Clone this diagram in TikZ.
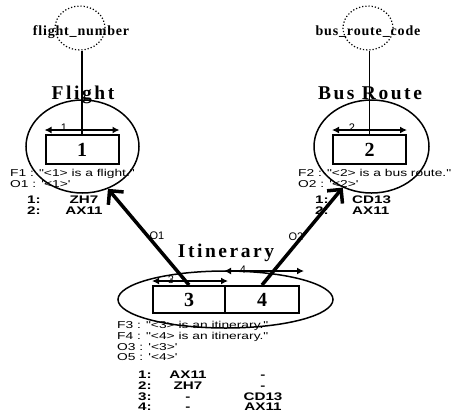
\documentclass[tikz,border=0pt]{standalone}
\usepackage{fontspec}
\setmainfont{Liberation Serif}
\newfontfamily\labfont{Liberation Sans}[FakeStretch=1.38]
\newfontfamily\tagfont{Liberation Sans}
\newfontfamily\titlefont{Liberation Serif}[LetterSpace=13]
\newfontfamily\attrfont{Liberation Serif}[LetterSpace=6]
\usetikzlibrary{arrows.meta, calc, shapes.geometric}
\tikzset{
  x=1pt, y=1pt,
  ent/.style={ellipse, draw, line width=1.5pt, inner sep=0pt},
  role/.style={
    draw, line width=2pt, inner sep=0pt,
    minimum width=73pt, minimum height=29pt,
    font=\fontsize{20}{20}\selectfont\bfseries
  },
  attr/.style={ellipse, draw, dotted, line width=1.2pt, inner sep=0pt,
    minimum width=50pt, minimum height=44pt},
  attrtxt/.style={font=\attrfont\fontsize{14}{14}\selectfont\bfseries, anchor=base, inner sep=0pt},
  title/.style={font=\titlefont\fontsize{19.5}{19.5}\selectfont\bfseries, anchor=base, inner sep=0pt},
  span/.style={{Latex[length=7pt,width=7pt]}-{Latex[length=7pt,width=7pt]}, line width=1.8pt},
  spanlab/.style={font=\tagfont\fontsize{11}{11}\selectfont, inner sep=0pt},
  ref/.style={-{Straight Barb[length=10pt,width=20pt]}, line width=3.5pt},
  facts/.style={font=\labfont\fontsize{10}{10.6}\selectfont, align=left, anchor=north west, inner sep=0pt},
  cell/.style={font=\labfont\fontsize{11}{11}\selectfont\bfseries, inner sep=0pt}
}
\begin{document}
\begin{tikzpicture}
  \useasboundingbox (0,0) rectangle (454,-418);

  % entity types
  \node[ent, minimum width=113pt, minimum height=93pt] (flight) at (82.5,-146.5) {};
  \node[ent, minimum width=115pt, minimum height=93pt] (bus) at (371.5,-146.5) {};
  \node[ent, minimum width=215pt, minimum height=57pt] (itin) at (225.5,-299.5) {};
  \node[title] (flightT) at (83,-99) {Flight};
  \node[title] (busT) at (370,-99) {Bus Route};
  \node[title] (itinT) at (226,-257) {Itinerary};

  % roles
  \node[role] (b1) at (82,-149.5) {1};
  \node[role] (b2) at (369.5,-149.5) {2};
  \node[role, minimum width=72pt, minimum height=27pt] (b3) at (189,-299.5) {3};
  \node[role, minimum width=74pt, minimum height=27pt] (b4) at (262,-299.5) {4};

  % value types
  \node[attr] (fnumC) at (80,-28) {};
  \node[attrtxt] (fnum) at (81,-35) {flight\_number};
  \node[attr] (bcodeC) at (368,-28) {};
  \node[attrtxt] (bcode) at (368,-35) {bus\_route\_code};
  \draw[line width=1.8pt] (fnumC.south -| b1.north) -- (b1.north);
  \draw[line width=1.8pt] (bcodeC.south -| b2.north) -- (b2.north);

  % uniqueness spans
  \draw[span] ($(b1.north west)+(0,4)$) -- ($(b1.north east)+(0,4)$);
  \draw[span] ($(b2.north west)+(0,4)$) -- ($(b2.north east)+(0,4)$);
  \draw[span] ($(b3.north west)+(0,4)$) -- ($(b3.north east)+(2,4)$);
  \draw[span] ($(b4.north west)+(0,14)$) -- ($(b4.north east)+(4,14)$);
  \node[spanlab] (s1) at (64,-128) {1};
  \node[spanlab] (s2) at (352,-128) {2};
  \node[spanlab] (s3) at (171,-280) {3};
  \node[spanlab] (s4) at (243,-270) {4};

  % role players
  \draw[ref] (b3.north) -- (flight.-59);
  \draw[ref] (b4.north) -- (bus.-125);
  \node[spanlab] (o1) at (157,-236) {O1};
  \node[spanlab] (o2) at (296,-237) {O2};

  % readings and populations
  \node[facts] (f1) at (10,-169.5) {F1 : "<1> is a flight."\\O1 : '<1>'};
  \node[facts] (f2) at (298,-169.5) {F2 : "<2> is a bus route."\\O2 : '<2>'};
  \node[facts] (f3) at (117,-321.5)
    {F3 : "<3> is an itinerary."\\F4 : "<4> is an itinerary."\\O3 : '<3>'\\O5 : '<4>'};

  \foreach \i/\v in {1/ZH7, 2/AX11} {
    \node[cell, anchor=base west] (fk\i) at (27,{-203.6-10.5*(\i-1)}) {\i:};
    \node[cell, anchor=base] (fv\i) at (84,{-203.6-10.5*(\i-1)}) {\v};
  }
  \foreach \i/\v in {1/CD13, 2/AX11} {
    \node[cell, anchor=base west] (bk\i) at (315,{-203.6-10.5*(\i-1)}) {\i:};
    \node[cell, anchor=base west] (bv\i) at (352,{-203.6-10.5*(\i-1)}) {\v};
  }
  \foreach \i/\a/\b in {1/AX11/-, 2/ZH7/-, 3/-/CD13, 4/-/AX11} {
    \node[cell, anchor=base west] (ik\i) at (138,{-378.6-10.7*(\i-1)}) {\i:};
    \node[cell, anchor=base] (ia\i) at (188,{-378.6-10.7*(\i-1)}) {\a};
    \node[cell, anchor=base] (ib\i) at (263,{-378.6-10.7*(\i-1)}) {\b};
  }
\end{tikzpicture}
\end{document}
